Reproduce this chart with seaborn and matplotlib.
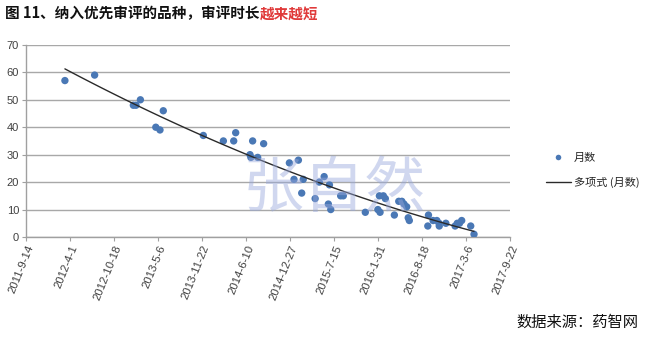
import matplotlib
matplotlib.use("Agg")
import matplotlib.pyplot as plt
import matplotlib.dates as mdates
import seaborn as sns
import pandas as pd
import numpy as np
from matplotlib.lines import Line2D

# ---- data ----
dates = ["2012-3-9", "2012-7-22", "2013-1-14", "2013-1-26", "2013-2-15", "2013-4-26",
         "2013-5-15", "2013-5-30", "2013-11-28", "2014-2-27", "2014-4-15", "2014-4-24",
         "2014-6-28", "2014-7-2", "2014-7-10", "2014-8-2", "2014-8-29", "2014-12-24",
         "2015-1-14", "2015-2-3", "2015-2-18", "2015-2-25", "2015-4-20", "2015-5-9",
         "2015-5-31", "2015-6-24", "2015-6-19", "2015-6-30", "2015-8-14", "2015-8-26",
         "2015-12-4", "2016-1-30", "2016-2-9", "2016-2-6", "2016-2-24", "2016-3-4",
         "2016-4-14", "2016-5-4", "2016-5-18", "2016-5-28", "2016-6-9", "2016-6-16",
         "2016-6-21", "2016-9-13", "2016-9-16", "2016-10-7", "2016-10-24", "2016-11-3",
         "2016-11-4", "2016-12-4", "2017-1-15", "2017-1-25", "2017-2-4", "2017-2-14",
         "2017-3-27", "2017-4-11"]
months = [57, 59, 48, 48, 50, 40,
          39, 46, 37, 35, 35, 38,
          30, 29, 35, 29, 34, 27,
          21, 28, 16, 21, 14, 20,
          22, 19, 12, 10, 15, 15,
          9, 10, 9, 15, 15, 14,
          8, 13, 13, 12, 11, 7,
          6, 4, 8, 6, 6, 5,
          4, 5, 4, 5, 5, 6,
          4, 1]
tick_labels = ["2011-9-14", "2012-4-1", "2012-10-18", "2013-5-6", "2013-11-22", "2014-6-10",
               "2014-12-27", "2015-7-15", "2016-1-31", "2016-8-18", "2017-3-6", "2017-9-22"]
y_ticks = [0, 10, 20, 30, 40, 50, 60, 70]
title_black = "图 11、纳入优先审评的品种，审评时长"
title_red = "越来越短"
legend_labels = ["月数", "多项式 (月数)"]
source = "数据来源：药智网"
watermark = "张自然"

# ---- build frame ----
df = pd.DataFrame({"date": pd.to_datetime(dates, format="%Y-%m-%d"), "months": months})
df["num"] = mdates.date2num(df["date"])
tick_nums = mdates.date2num(pd.to_datetime(tick_labels, format="%Y-%m-%d"))

sns.set_theme(style="white")
plt.rcParams["font.family"] = ["Noto Sans CJK SC", "DejaVu Sans"]

fig = plt.figure(figsize=(6.49, 3.48), dpi=100)
ax = fig.add_axes([0.040, 0.319, 0.746, 0.552])

point_color = "#4a78b5"
sns.scatterplot(data=df, x="num", y="months", ax=ax, color=point_color, s=28,
                edgecolor="none", zorder=3, legend=False)
sns.regplot(data=df, x="num", y="months", ax=ax, order=2, scatter=False, ci=None,
            truncate=True, line_kws=dict(color="#2a2a2a", lw=1.0, zorder=4))

ax.set_xlim(tick_nums[0], tick_nums[-1])
ax.set_ylim(0, 70)
ax.set_xticks(tick_nums)
ax.set_xticklabels(tick_labels, rotation=68, ha="right", rotation_mode="anchor",
                   fontsize=8.2, color="#404040", family=["Liberation Sans", "DejaVu Sans"])
ax.set_yticks(y_ticks)
ax.set_yticklabels([str(v) for v in y_ticks], fontsize=8, color="#404040",
                   family=["Liberation Sans", "DejaVu Sans"])
ax.set_xlabel("")
ax.set_ylabel("")
ax.grid(axis="y", color="#a8a8a8", lw=1.0)
ax.grid(axis="x", visible=False)
for side in ["top", "right"]:
    ax.spines[side].set_visible(False)
for side in ["left", "bottom"]:
    ax.spines[side].set_color("#a0a0a0")
    ax.spines[side].set_linewidth(1.0)
ax.tick_params(axis="both", which="major", length=3, width=0.8, color="#a0a0a0",
               direction="out", bottom=True, left=True, pad=2)

# watermark
fig.text(0.515, 0.455, watermark, ha="center", va="center", fontsize=44,
         color="#98a8dc", alpha=0.45, zorder=0)

# legend
handles = [Line2D([0], [0], marker="o", color="none", markerfacecolor=point_color,
                  markeredgecolor="none", markersize=4),
           Line2D([0], [0], color="#2a2a2a", lw=1.0)]
fig.legend(handles, legend_labels, loc="center left", bbox_to_anchor=(0.826, 0.51),
           frameon=False, fontsize=8, handlelength=2.2, labelspacing=1.2,
           handletextpad=0.3)

# title
t1 = fig.text(0.008, 0.962, title_black, ha="left", va="center", fontsize=10.5,
              fontweight="bold", color="#111111")
fig.canvas.draw()
bb = t1.get_window_extent()
x_end = bb.x1 / fig.bbox.width
fig.text(x_end, 0.962, title_red, ha="left", va="center", fontsize=10.5,
         fontweight="bold", color="#e03a3a")

# source
fig.text(0.983, 0.073, source, ha="right", va="center", fontsize=11, color="#111111")

fig.savefig("out.png", dpi=100)
